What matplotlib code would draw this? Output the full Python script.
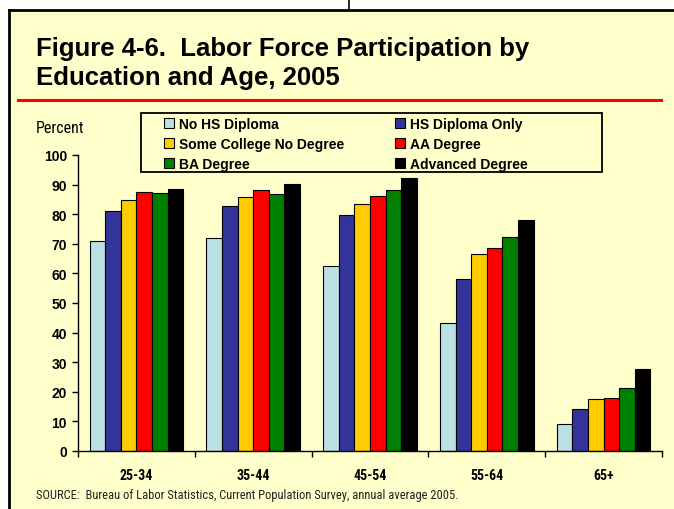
import matplotlib
matplotlib.use("Agg")
import matplotlib.pyplot as plt
import numpy as np
from matplotlib.patches import Rectangle
from matplotlib.lines import Line2D

ages = ["25-34", "35-44", "45-54", "55-64", "65+"]
series = ["No HS Diploma", "HS Diploma Only", "Some College No Degree",
          "AA Degree", "BA Degree", "Advanced Degree"]
no_hs = [71.0, 72.0, 62.4, 43.1, 9.0]
hs_only = [81.0, 82.8, 79.7, 58.2, 14.2]
some_college = [84.8, 85.8, 83.5, 66.4, 17.6]
aa_degree = [87.6, 88.1, 86.0, 68.5, 17.9]
ba_degree = [87.3, 86.7, 88.2, 72.4, 21.3]
advanced = [88.5, 90.1, 92.2, 78.0, 27.7]
colors = ["#BBE0E3", "#333399", "#FFCC00", "#FF0000", "#008000", "#000000"]

W, H = 674, 510
BG = "#FFFFCC"
NARROW = ["Roboto Condensed", "Archivo Narrow", "DejaVu Sans"]
SANS = ["Liberation Sans", "DejaVu Sans"]

fig = plt.figure(figsize=(W / 100, H / 100), dpi=100, facecolor="white")

def fx(px):
    return px / W

def fy(py):
    return 1 - py / H

# yellow panel with black top/left border
fig.patches.append(Rectangle((fx(9), 0), 1 - fx(9), fy(11), transform=fig.transFigure,
                             facecolor=BG, edgecolor="none", zorder=-5))
fig.lines.append(Line2D([fx(9), 1], [fy(11), fy(11)], transform=fig.transFigure,
                        color="black", lw=2.0, zorder=-4))
fig.lines.append(Line2D([fx(9), fx(9)], [0, fy(11)], transform=fig.transFigure,
                        color="black", lw=2.0, zorder=-4))
fig.lines.append(Line2D([fx(349), fx(349)], [fy(11), 1], transform=fig.transFigure,
                        color="black", lw=1.2, zorder=-4))
# red rule under the title
fig.lines.append(Line2D([fx(18), fx(661)], [fy(101), fy(101)], transform=fig.transFigure,
                        color="#FF0000", lw=2.2, zorder=-4))

fig.text(fx(36), fy(56), "Figure 4-6.  Labor Force Participation by", fontsize=18.5,
         fontweight="bold", family=SANS, va="baseline", ha="left")
fig.text(fx(36), fy(85), "Education and Age, 2005", fontsize=18.5,
         fontweight="bold", family=SANS, va="baseline", ha="left")

ax = fig.add_axes([fx(78), fy(452), fx(662) - fx(78), (452 - 156) / H])
ax.set_facecolor("none")

data = [no_hs, hs_only, some_college, aa_degree, ba_degree, advanced]
x = np.arange(len(ages))
bw = 0.8 / len(series)
bars = []
for i, vals in enumerate(data):
    b = ax.bar(x - 0.4 + bw * (i + 0.5), vals, bw, color=colors[i],
               edgecolor="black", linewidth=0.8, label=series[i], zorder=2)
    bars.append(b)

ax.set_xlim(-0.5, len(ages) - 0.5)
ax.set_ylim(0, 100)
ax.set_yticks(range(0, 101, 10))
ax.set_xticks(x)
ax.set_xticklabels(ages, family=NARROW, fontweight="bold", fontsize=10)
ax.set_xticks(np.arange(-0.5, len(ages)), minor=True)
ax.tick_params(axis="x", which="major", length=0, pad=12)
ax.tick_params(axis="x", which="minor", length=4, width=1, direction="out")
ax.tick_params(axis="y", length=4, width=1, direction="out", pad=4)
for lab in ax.get_yticklabels():
    lab.set_fontweight("bold")
    lab.set_fontsize(10)
    lab.set_family(SANS)
for side in ["top", "right"]:
    ax.spines[side].set_visible(False)
ax.spines["left"].set_linewidth(1)
ax.spines["bottom"].set_linewidth(1)

fig.text(fx(36), fy(133), "Percent", fontsize=11.5, family=NARROW, va="baseline", ha="left")

# legend box
fig.patches.append(Rectangle((fx(141), fy(173)), fx(602) - fx(141), (173 - 114) / H,
                             transform=fig.transFigure, facecolor=BG, edgecolor="black",
                             lw=1.3, zorder=-3))
order = [0, 2, 4, 1, 3, 5]
leg = ax.legend([bars[i] for i in order], [series[i] for i in order], ncol=2,
                loc="upper left", bbox_to_anchor=(fx(164), fy(118)),
                bbox_transform=fig.transFigure, frameon=False, borderaxespad=0,
                borderpad=0, prop={"family": SANS, "weight": "bold", "size": 10},
                handlelength=0.75, handleheight=0.75, handletextpad=0.35,
                labelspacing=0.42, columnspacing=3.6)

fig.text(fx(36), fy(499), "SOURCE:  Bureau of Labor Statistics, Current Population Survey, annual average 2005.",
         fontsize=9, family=NARROW, va="baseline", ha="left", color="#222222")

fig.savefig("out.png", dpi=100, facecolor="white")
